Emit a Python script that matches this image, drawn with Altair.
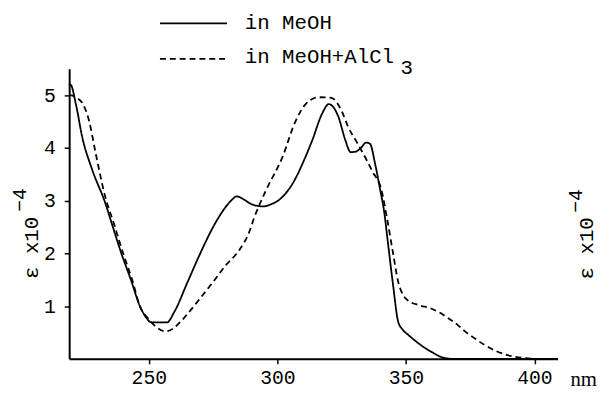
import altair as alt
import pandas as pd

# --- data ---
series_names = ["in MeOH", "in MeOH+AlCl3"]

wl_meoh = [219, 219.5, 221.6, 224.1, 228, 233, 236, 239.3, 243, 246.5, 249, 251, 257, 260,
           265, 270, 275, 279, 282, 284.2, 287, 290, 294.5, 297.5, 300.8, 306, 310.4, 313.6,
           317.4, 320, 323.8, 326.4, 328.5, 330.5, 332.5, 334.5, 336, 338, 340, 341.5, 343,
           345, 347, 348.8, 351, 353.7, 357, 360, 364, 368, 409]
eps_meoh = [5.18, 5.2, 4.83, 4.2, 3.58, 2.96, 2.5, 2.0, 1.5, 1.0, 0.78, 0.69, 0.69, 0.9,
            1.45, 2.0, 2.5, 2.82, 3.0, 3.08, 3.02, 2.93, 2.89, 2.93, 3.02, 3.33, 3.77, 4.15,
            4.65, 4.83, 4.58, 4.15, 3.92, 3.93, 4.0, 4.1, 4.08, 3.7, 3.2, 2.8, 2.2,
            1.4, 0.7, 0.55, 0.45, 0.34, 0.22, 0.13, 0.03, 0.0, 0.0]

wl_alcl = [219, 220.3, 222, 224, 226.7, 229.3, 233, 236.5, 240, 243.5, 246.5, 250, 253,
           256.5, 259, 261, 265, 270, 275, 280, 285, 289, 291, 293, 295.6, 302, 307, 311,
           316, 321, 325, 327.5, 331, 334.7, 337, 340.5, 342.7, 345, 347, 349, 351, 355,
           360, 363, 366.5, 370, 373, 377, 380.7, 385, 389.5, 395, 400, 409]
eps_alcl = [5.0, 4.99, 4.95, 4.86, 4.52, 3.9, 3.08, 2.55, 2.0, 1.5, 1.0, 0.75, 0.6,
            0.52, 0.56, 0.64, 0.85, 1.15, 1.46, 1.78, 2.05, 2.4, 2.68, 2.92, 3.2, 3.83, 4.5, 4.83,
            4.96, 4.95, 4.7, 4.4, 4.1, 3.77, 3.55, 3.2, 2.65, 2.0, 1.46, 1.2, 1.1, 1.02,
            0.95, 0.88, 0.77, 0.65, 0.52, 0.38, 0.26, 0.15, 0.07, 0.02, 0.0, 0.0]

x_ticks = [250, 300, 350, 400]
y_ticks = [1, 2, 3, 4, 5]
y_title = "ε x10"
y_title_exp = "−4"
x_title = "nm"

df = pd.concat([
    pd.DataFrame({"nm": wl_meoh, "eps": eps_meoh, "series": series_names[0]}),
    pd.DataFrame({"nm": wl_alcl, "eps": eps_alcl, "series": series_names[1]}),
])

MONO = "Liberation Mono"
W, H = 495, 294

lines = alt.Chart(df).mark_line(color="black", strokeWidth=1.8, interpolate="monotone").encode(
    x=alt.X("nm:Q",
            scale=alt.Scale(domain=[219, 409], nice=False, zero=False),
            axis=alt.Axis(values=x_ticks, title=x_title, labelPadding=4,
                          titleX=521, titleY=21, titleAlign="center", titleBaseline="middle",
                          titleFont="Liberation Serif", titleFontSize=21)),
    y=alt.Y("eps:Q",
            scale=alt.Scale(domain=[0, 5.5], nice=False),
            axis=alt.Axis(values=y_ticks, title=y_title, labelPadding=9,
                          titleX=-38, titleY=181, titleAlign="center", titleBaseline="middle",
                          titleFont=MONO, titleFontSize=21)),
    strokeDash=alt.StrokeDash("series:N",
                              scale=alt.Scale(domain=series_names, range=[[1, 0], [6, 4]]),
                              legend=None),
)


def txt(s, x, y, size=21, angle=0, align="left", font=MONO):
    return alt.Chart(pd.DataFrame({"s": [s]})).mark_text(
        font=font, fontSize=size, angle=angle, align=align, baseline="middle",
        color="black").encode(x=alt.value(x), y=alt.value(y), text="s:N")


# manual legend (two entries)
leg1_line = alt.Chart(pd.DataFrame({"s": [series_names[0]]})).mark_rule(
    color="black", strokeWidth=1.8).encode(
    x=alt.value(92), x2=alt.value(160), y=alt.value(-46))
leg2_line = alt.Chart(pd.DataFrame({"s": [series_names[1]]})).mark_rule(
    color="black", strokeWidth=1.8, strokeDash=[6, 4]).encode(
    x=alt.value(92), x2=alt.value(160), y=alt.value(-10))
leg1_text = txt(series_names[0], 178, -46)
leg2_text = txt(series_names[1][:-1], 178, -12)
leg2_sub = txt(series_names[1][-1], 342, -1, align="center")

# exponent of the left axis title and the duplicated label at the right edge
left_exp = txt(y_title_exp, -50, 133, size=20, angle=270, align="center")
right_title = txt(y_title, 525, 182, angle=270, align="center")
right_exp = txt(y_title_exp, 514, 134, size=20, angle=270, align="center")

chart = alt.layer(lines, leg1_line, leg2_line, leg1_text, leg2_text, leg2_sub,
                  left_exp, right_title, right_exp).properties(
    width=W, height=H,
    autosize=alt.AutoSizeParams(type="none"),
    padding={"left": 62, "top": 59, "right": 45, "bottom": 30},
    background="white",
).configure_view(stroke=None).configure_axis(
    grid=False, domainColor="black", domainWidth=2, tickColor="black", tickWidth=1.5,
    tickSize=5, labelColor="black", labelFont=MONO, labelFontSize=20,
    titleColor="black", titleFontWeight="normal",
)

chart.save("out.html", embed_options={"renderer": "svg", "actions": False})
